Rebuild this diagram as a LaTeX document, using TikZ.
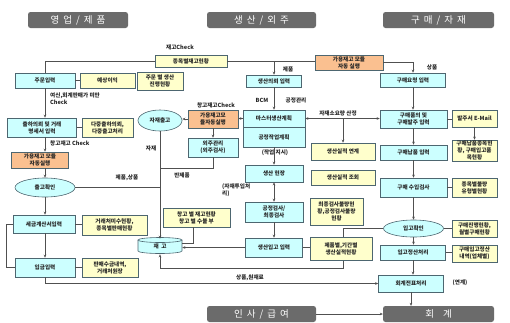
\documentclass[tikz,border=0pt]{standalone}
\usepackage{fontspec}
\setmainfont{Noto Sans CJK KR}
\usetikzlibrary{arrows.meta,shapes.geometric}
\pgfdeclarelayer{bg}
\pgfsetlayers{bg,main}
\definecolor{cfill}{HTML}{CCFFFF}
\definecolor{yfill}{HTML}{FFFFCC}
\definecolor{ofill}{HTML}{FAC090}
\definecolor{hfill}{HTML}{6B6B6B}
\definecolor{bord}{HTML}{4D6670}
\definecolor{lncol}{HTML}{505050}
\newcommand{\hs}{\hspace{4pt}}
\begin{document}
\begin{tikzpicture}[x=1pt,y=-1pt,
  sz/.style 2 args={minimum width=#1, minimum height=#2},
  box/.style={draw=bord, line width=0.6pt, align=center, inner sep=0pt, font=\fontsize{5.6}{7}\selectfont\bfseries, text=black!85},
  cbox/.style={box, fill=cfill},
  ybox/.style={box, fill=yfill},
  obox/.style={box, fill=ofill},
  ebox/.style={box, fill=cfill, ellipse},
  hdr/.style={fill=hfill, rounded corners=2.5pt, text=white, font=\fontsize{9.5}{10}\selectfont, inner sep=0pt},
  lbl/.style={font=\fontsize{5.6}{6.5}\selectfont\bfseries, inner sep=0pt, align=left, text=black!85},
  ln/.style={draw=lncol, line width=0.6pt},
  ar/.style={ln, -{Stealth[length=3pt,width=2.6pt]}},
  dar/.style={ln, {Stealth[length=3pt,width=2.6pt]}-{Stealth[length=3pt,width=2.6pt]}},
]
\useasboundingbox (0,0) rectangle (510,322);
% headers
\node[hdr, sz={100}{16}] (h1) at (78,20) {영\hs 업\hs /\hs 제\hs 품};
\node[hdr, sz={109}{16}] (h2) at (261.5,20) {생\hs 산\hs /\hs 외\hs 주};
\node[hdr, sz={111}{16}] (h3) at (438.5,20) {구\hs 매\hs /\hs 자\hs 재};
\node[hdr, sz={109}{16}] (h4) at (261.5,314) {인\hs 사\hs /\hs 급\hs 여};
\node[hdr, sz={111}{16}] (h5) at (438.5,314) {회\hspace{9pt}계};
% left column
\node[cbox, sz={60}{15}] (jumun) at (45,80.5) {주문입력};
\node[ybox, sz={55}{15}] (yesang) at (107.5,80.5) {예상이익};
\node[ybox, sz={46}{18}] (jumunbyul) at (160,81) {주문 별 생산\\진행현황};
\node[ybox, sz={72}{12}] (jongmok) at (191,61.5) {종목별재고현황};
\node[obox, sz={68}{15}] (ga1) at (349,62.5) {가용재고 모듈\\자동 실행};
\node[cbox, sz={55}{12}] (saengui) at (274,81) {생산의뢰 입력};
\node[cbox, sz={65}{14}] (gumaeyo) at (413,80) {구매요청 입력};
\node[cbox, sz={69}{19}] (chulha) at (42,127.5) {출하의뢰 및 거래\\명세서 입력};
\node[ybox, sz={51}{19}] (dajung) at (107.5,127.5) {다중출하의뢰,\\다중출고처리};
\node[obox, sz={57}{16}] (ga2) at (40,160) {가용재고 모듈\\자동실행};
\node[ebox, sz={60}{19}] (chulgo) at (45,187.5) {출고확인};
\node[cbox, sz={62}{18}] (sega) at (44,224) {세금계산서입력};
\node[ybox, sz={65}{20}] (geore) at (114.5,225) {거래처미수현황,\\종목별판매현황};
\node[cbox, sz={60}{19}] (ipgum) at (45,267.5) {입금입력};
\node[ybox, sz={56}{19}] (panmae) at (110,267.5) {판매수금내역,\\거래처원장};
% middle
\node[ebox, sz={44}{21}] (jajae) at (160,120.5) {자재출고};
\node[obox, sz={50}{18}] (ga3) at (213,119) {가용재고모\\듈자동실행};
\node[cbox, sz={50}{19}] (oeju) at (213,147.5) {외주관리\\(외주검사)};
\node[cbox, sz={62}{17}] (master) at (274,118.5) {마스터생산계획};
\node[cbox, sz={62}{20}] (gongjung) at (274,137) {공정작업계획};
\node[cbox, sz={58}{17}] (hyunjang) at (274,173.5) {생산 현장};
\node[cbox, sz={58}{20}] (gumgsa) at (274,212) {공정검사/\\최종검사};
\node[cbox, sz={57}{19}] (ipgo) at (274,247.5) {생산입고 입력};
\fill[cfill] (138,240) -- (138,251) arc[start angle=180,end angle=0,x radius=22,y radius=2.5] -- (182,240) arc[start angle=0,end angle=-180,x radius=22,y radius=2.5] -- cycle;
\draw[draw=bord, line width=0.6pt] (160,240) ellipse [x radius=22, y radius=2.5];
\draw[draw=bord, line width=0.6pt] (138,240) -- (138,251) arc[start angle=180,end angle=0,x radius=22,y radius=2.5] -- (182,240);
\node[box, draw=none, sz={44}{15}] (jaego) at (160,246.5) {재 \ 고};
\node[ybox, sz={67}{19}] (changgo) at (196.5,217.5) {창고 별 재고현황\\창고 별 수불 부};
\node[ybox, sz={64}{17}] (silyun) at (343,151.5) {생산실적 연계};
\node[ybox, sz={64}{15}] (siljo) at (343,177.5) {생산실적 조회};
\node[ybox, sz={53}{27}] (choejong) at (336.5,211.5) {최종검사불량현\\황,공정검사불량\\현황};
\node[ybox, sz={62}{23}] (jepum) at (341,248.5) {제품별,기간별\\생산실적현황};
% right column
\node[cbox, sz={67}{18}] (gumpum) at (413.5,119) {구매품의 및\\구매발주 입력};
\node[ybox, sz={45}{17}] (balju) at (474.5,118.5) {발주서 E-Mail};
\node[cbox, sz={67}{15}] (gunap) at (413.5,152.5) {구매납품 입력};
\node[ybox, sz={45}{21}] (gunapjong) at (474.5,150.5) {구매납품종목현\\황, 구매입고품\\목현황};
\node[cbox, sz={67}{19}] (susip) at (413.5,187.5) {구매 수입검사};
\node[ybox, sz={45}{19}] (bulyang) at (474.5,187.5) {종목별불량\\유형별현황};
\node[ebox, sz={60}{17}] (ipgohwak) at (413.5,228.5) {입고확인};
\node[ybox, sz={45}{17}] (gujin) at (474.5,228.5) {구매진행현황,\\월별구매현황};
\node[cbox, sz={65}{15}] (jeongsan) at (413,252.5) {입고정산처리};
\node[ybox, sz={45}{17}] (guipgo) at (474.5,253.5) {구매입고정산\\내역(업체별)};
\node[cbox, sz={65}{17}] (hoegye) at (411,283.5) {회계전표처리};
% labels
\node[lbl] (l1) at (180,47) {재고Check};
\node[lbl] (l2) at (288,69) {제품};
\node[lbl] (l3) at (432,67) {상품};
\node[lbl, anchor=north west] (l4) at (50,93) {여신,회계판매가 미만\\Check};
\node[lbl, anchor=west] (l5) at (50,143) {창고재고 Check};
\node[lbl] (l6) at (127,178) {제품,상품};
\node[lbl] (l7) at (151,148) {자재};
\node[lbl] (l8) at (216,105) {창고재고Check};
\node[lbl] (l9) at (262,100) {BCM};
\node[lbl] (l10) at (296,100) {공정관리};
\node[lbl] (l11) at (338,113) {자재소요량 산정};
\node[lbl] (l12) at (182,175) {반제품};
\node[lbl] (l13) at (275,153) {(작업 지시)};
\node[lbl, anchor=north west] (l14) at (222,184) {(자재투입처\\리)};
\node[lbl] (l15) at (250,277.5) {상품,원재료};
\node[lbl] (l16) at (460,283) {(연계)};
% coordinates
\coordinate (j1) at (160,168);
\coordinate (k1) at (343,268);
% connectors
\draw[ln] (jumun.north) |- (jongmok.west);
\draw[ln] (jongmok.east) -- (jongmok.east -| ga1.west);
\draw[ar] (jongmok.east -| saengui.north) -- (saengui.north);
\draw[ar] (ga1.east) -| (gumaeyo.north);
\draw[ln] (jumun.east) -- (yesang.west);
\draw[ar] (jumun.south) -- (jumun.south |- chulha.north);
\draw[ln] (chulha.east) -- (dajung.west);
\draw[ar] (chulha.south -| jumun.south) -- (jumun.south |- ga2.north);
\draw[ar] (jumun.south |- ga2.south) -- (chulgo.north);
\draw[ar] (chulgo.south) -- (chulgo.south |- sega.north);
\draw[ar] (chulgo.south |- sega.south) -- (chulgo.south |- ipgum.north);
\draw[ln] (sega.east) -- (sega.east -| geore.west);
\draw[ln] (ipgum.east) -- (panmae.west);
\draw[ln] (sega.west) -- ++(-6,0) |- (ipgum.west);
\draw[ar] (ipgum.south) |- (hoegye.west);
\draw[ln] (chulgo.east) -- (chulgo.east -| jajae.south);
\draw[ar] (jajae.south) -- (jaego.north);
\draw[ar] (ga3.west) -- (ga3.west -| jajae.east);
\draw[ar] (ga3.south) -- (oeju.north);
\draw[ln] (oeju.south) |- (j1);
\draw[ar] (master.west) -- (master.west -| ga3.east);
\draw[ar] (saengui.south) -- (master.north);
\draw[dar] (master.east) -- (master.east -| gumpum.west);
\draw[ar] (master.east -| silyun.north) -- (silyun.north);
\draw[ar] (gongjung.south) -- (hyunjang.north);
\draw[dar] (hyunjang.south) -- (gumgsa.north);
\draw[ar] (gumgsa.south) -- (ipgo.north);
\draw[ar] (ipgo.west) -- (ipgo.west -| jaego.east);
\draw[ln] ([xshift=-3.5pt]changgo.south) |- ([yshift=3.5pt]jaego.east);
\draw[ln] (ipgo.east) -- (ipgo.east -| jepum.west);
\begin{pgfonlayer}{bg}
\draw[ar] (ipgohwak.west) -| (k1) -| (jaego.south);
\end{pgfonlayer}
\draw[ar] (gumaeyo.south) -- (gumaeyo.south |- gumpum.north);
\draw[ln] (gumpum.east) -- (gumpum.east -| balju.west);
\draw[ar] (balju.south) -- (gunapjong.north);
\draw[ar] (gumpum.south) -- (gunap.north);
\draw[ar] (gunap.south) -- (susip.north);
\draw[ln] (susip.east) -- (bulyang.west);
\draw[ar] (susip.south) -- (ipgohwak.north);
\draw[ln] (ipgohwak.east) -- (gujin.west);
\draw[ar] (ipgohwak.south) -- (ipgohwak.south |- jeongsan.north);
\draw[ln] (jeongsan.east) -- (jeongsan.east -| guipgo.west);
\draw[ar] (jeongsan.south) -- (jeongsan.south |- hoegye.north);
\draw[ar] (hoegye.south) -- (hoegye.south |- h5.north);
\draw[ar] (h4.east) -- (h4.east -| h5.west);
\end{tikzpicture}
\end{document}
